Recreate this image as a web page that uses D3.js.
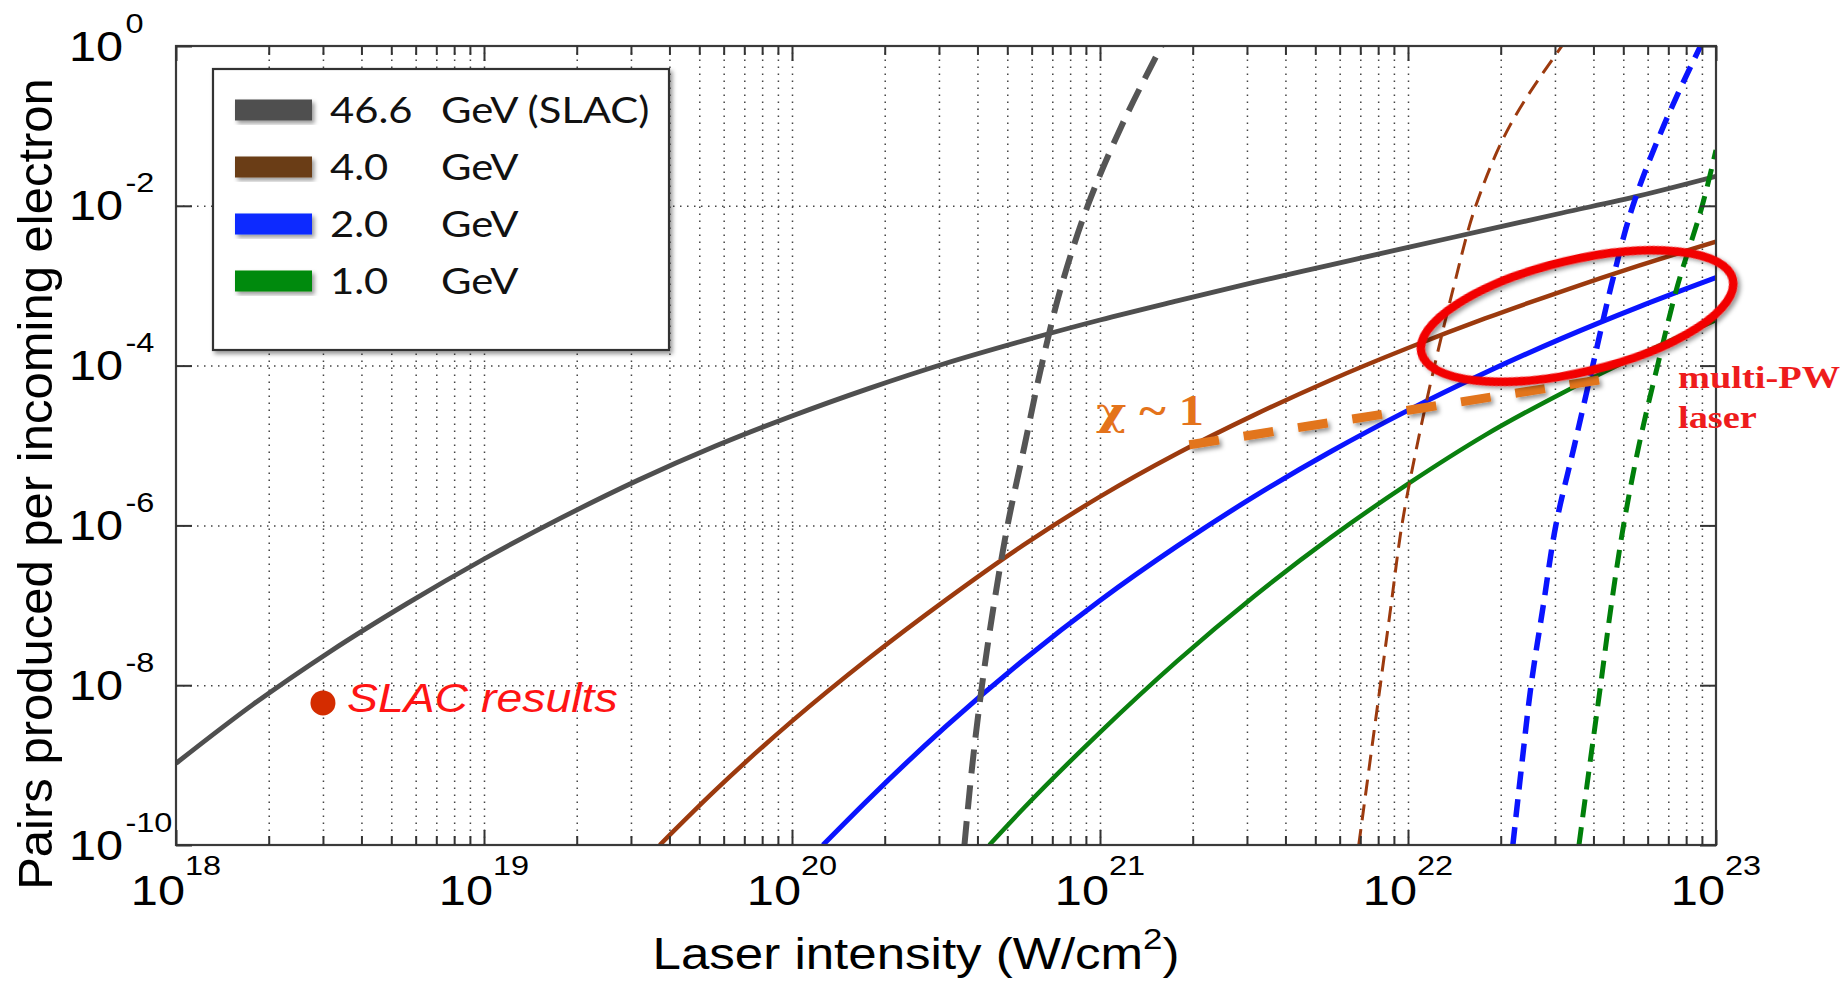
<!DOCTYPE html>
<html><head><meta charset="utf-8">
<script src="https://cdn.jsdelivr.net/npm/d3@7"></script>
<style>body{margin:0;background:#fff}svg{display:block}</style>
</head><body>
<svg id="c" width="1848" height="982"></svg>
<script>
// ---------------- data ----------------
const legendNumbers = ["46.6", "4.0", "2.0", "1.0"];
const legendUnits = ["GeV (SLAC)", "GeV", "GeV", "GeV"];
const xTickExponents = ["18", "19", "20", "21", "22", "23"];
const xTickValues = [1e18, 1e19, 1e20, 1e21, 1e22, 1e23];
const yTickExponents = ["0", "-2", "-4", "-6", "-8", "-10"];
const yTickValues = [1, 1e-2, 1e-4, 1e-6, 1e-8, 1e-10];

// solid curves: pairs per electron vs laser intensity
const gray46I = [1e18,1.78e18,3.16e18,5.62e18,1e19,1.78e19,3.16e19,5.62e19,1e20,1.78e20,3.16e20,5.62e20,1e21,1.78e21,3.16e21,5.62e21,1e22,1.78e22,3.16e22,5.62e22,1e23];
const gray46P = [1.05e-9,5.75e-9,2.63e-8,1.05e-7,3.80e-7,1.24e-6,3.67e-6,9.77e-6,2.34e-5,5.19e-5,1.07e-4,2.04e-4,3.72e-4,6.46e-4,1.10e-3,1.82e-3,3.02e-3,4.95e-3,8.13e-3,1.33e-2,2.34e-2];

const brown4I = [3.72e19,5.62e19,1e20,1.78e20,3.16e20,5.62e20,1e21,1.78e21,3.16e21,5.62e21,1e22,1.78e22,3.16e22,5.62e22,1e23];
const brown4P = [1e-10,4.79e-10,3.55e-9,2.19e-8,1.17e-7,5.62e-7,2.29e-6,7.94e-6,2.40e-5,6.61e-5,1.66e-4,3.89e-4,8.51e-4,1.78e-3,3.55e-3];

const blue2I = [1.26e20,1.78e20,3.16e20,5.62e20,1e21,1.78e21,3.16e21,5.62e21,1e22,1.78e22,3.16e22,5.62e22,1e23];
const blue2P = [1e-10,3.80e-10,3.05e-9,2.04e-8,1.15e-7,5.5e-7,2.29e-6,8.41e-6,2.75e-5,8.13e-5,2.19e-4,5.43e-4,1.26e-3];

const green1I = [4.37e20,5.62e20,1e21,1.78e21,3.16e21,5.62e21,1e22,1.78e22,3.16e22,5.62e22,1e23];
const green1P = [1e-10,2.82e-10,2.57e-9,2.0e-8,1.29e-7,7.08e-7,3.31e-6,1.35e-5,4.52e-5,1.35e-4,3.72e-4];

// dashed curves (steep)
const dashP = [1e-10,1e-9,1e-8,1e-7,1e-6,1e-5,1e-4,1e-3,1e-2,1e-1,1];
const gray46DashI = [3.63e20,3.85e20,4.14e20,4.52e20,5.01e20,5.69e20,6.46e20,7.50e20,9.12e20,1.175e21,1.585e21];
const brown4DashI = [6.92e21,7.50e21,8.13e21,8.81e21,9.55e21,1.07e22,1.22e22,1.41e22,1.66e22,2.14e22,3.16e22];
const blue2DashI = [2.19e22,2.34e22,2.51e22,2.75e22,3.02e22,3.47e22,3.98e22,4.57e22,5.37e22,6.76e22,8.91e22];
const green1DashI = [3.59e22,3.89e22,4.22e22,4.57e22,5.01e22,5.62e22,6.46e22,7.50e22,9.02e22,1e23];
const green1DashP = [1e-10,1e-9,1e-8,1e-7,1e-6,1e-5,1e-4,1e-3,1e-2,5.0e-2];

// annotations
const slacPoint = [3.0e18, 6.0e-9];
const chiLine = [[1.95e21, 1.02e-5], [4.17e22, 6.6e-5]];
const ellipseCenter = [3.54e22, 4.17e-4];

// ---------------- chart ----------------
const svg = d3.select("#c");
const M = {l:176, r:1716, t:46, b:845};
const x = d3.scaleLog().domain([1e18, 1e23]).range([M.l, M.r]);
const y = d3.scaleLog().domain([1e-10, 1]).range([M.b, M.t]);
const SX = 1.16;
const sans = "'Liberation Sans', Arial, Helvetica, sans-serif";
const serif = "'Liberation Serif', 'Times New Roman', serif";

svg.append("rect").attr("width",1848).attr("height",982).attr("fill","#fff");
const defs = svg.append("defs");
defs.append("clipPath").attr("id","clip").append("rect")
  .attr("x",M.l).attr("y",M.t).attr("width",M.r-M.l).attr("height",M.b-M.t);
const f = defs.append("filter").attr("id","shadow").attr("x","-20%").attr("y","-20%").attr("width","140%").attr("height","140%");
f.append("feDropShadow").attr("dx",2.5).attr("dy",3).attr("stdDeviation",2).attr("flood-color","#000").attr("flood-opacity",0.4);

// grid
const allX = x.ticks().filter(v => v > 1e18 && v < 1e23);
const gx = svg.append("g").attr("transform",`translate(0,${M.b})`)
  .call(d3.axisBottom(x).tickValues(allX).tickSize(-(M.b-M.t)).tickFormat(""));
const gy = svg.append("g").attr("transform",`translate(${M.l},0)`)
  .call(d3.axisLeft(y).tickValues([1e-8,1e-6,1e-4,1e-2]).tickSize(-(M.r-M.l)).tickFormat(""));
[gx, gy].forEach(g => {
  g.select(".domain").remove();
  g.selectAll("line").attr("stroke","#444").attr("stroke-width",1.5).attr("stroke-dasharray","1.5,5.5");
});

// curves
const plot = svg.append("g").attr("clip-path","url(#clip)");
const lineX = d3.line().x(d => x(d[0])).y(d => y(d[1])).curve(d3.curveMonotoneX);
const lineY = d3.line().x(d => x(d[0])).y(d => y(d[1])).curve(d3.curveMonotoneY);
const zip = (a, b) => a.map((v, i) => [v, b[i]]);

const dashed = [
  {I: gray46DashI, P: dashP, c: "#555555", w: 6, da: "24,12"},
  {I: brown4DashI, P: dashP, c: "#9c3a0e", w: 3, da: "16,9"},
  {I: blue2DashI, P: dashP, c: "#0a14ff", w: 5.5, da: "18,10"},
  {I: green1DashI, P: green1DashP, c: "#007f0a", w: 5, da: "18,10"}
];
const solids = [
  {I: gray46I, P: gray46P, c: "#4f4f4f", w: 4.8},
  {I: brown4I, P: brown4P, c: "#9c3a0e", w: 4.5},
  {I: blue2I, P: blue2P, c: "#0a14ff", w: 5},
  {I: green1I, P: green1P, c: "#0a800f", w: 4.5}
];
solids.forEach(s => plot.append("path").attr("d", lineX(zip(s.I, s.P)))
  .attr("fill","none").attr("stroke",s.c).attr("stroke-width",s.w));
dashed.forEach(s => plot.append("path").attr("d", lineY(zip(s.I, s.P)))
  .attr("fill","none").attr("stroke",s.c).attr("stroke-width",s.w).attr("stroke-dasharray",s.da));

// frame + ticks
svg.append("rect").attr("x",M.l).attr("y",M.t).attr("width",M.r-M.l).attr("height",M.b-M.t)
  .attr("fill","none").attr("stroke","#3a3a3a").attr("stroke-width",2.2);
const minorX = x.ticks().filter(v => !xTickValues.includes(v));
const tickGroups = [
  svg.append("g").attr("transform",`translate(0,${M.b})`).call(d3.axisBottom(x).tickValues(xTickValues).tickSize(-15).tickFormat("")),
  svg.append("g").attr("transform",`translate(0,${M.b})`).call(d3.axisBottom(x).tickValues(minorX).tickSize(-9).tickFormat("")),
  svg.append("g").attr("transform",`translate(0,${M.t})`).call(d3.axisTop(x).tickValues(xTickValues).tickSize(-15).tickFormat("")),
  svg.append("g").attr("transform",`translate(0,${M.t})`).call(d3.axisTop(x).tickValues(minorX).tickSize(-9).tickFormat("")),
  svg.append("g").attr("transform",`translate(${M.l},0)`).call(d3.axisLeft(y).tickValues(yTickValues).tickSize(-16).tickFormat("")),
  svg.append("g").attr("transform",`translate(${M.r},0)`).call(d3.axisRight(y).tickValues(yTickValues).tickSize(-16).tickFormat(""))
];
tickGroups.forEach(g => { g.select(".domain").remove(); g.selectAll("line").attr("stroke","#333").attr("stroke-width",2); });

// tick labels
xTickValues.forEach((v, i) => {
  const t = svg.append("text").attr("transform",`translate(${x(v)},905) scale(${SX},1)`)
    .attr("text-anchor","middle").attr("font-family",sans).attr("font-size",42).attr("fill","#000");
  t.append("tspan").text("10");
  t.append("tspan").attr("dy",-30).attr("font-size",28).text(xTickExponents[i]);
});
yTickValues.forEach((v, i) => {
  const t = svg.append("text").attr("transform",`translate(69,${y(v)+14.5}) scale(${SX},1)`)
    .attr("font-family",sans).attr("font-size",42).attr("fill","#000");
  t.append("tspan").text("10");
  t.append("tspan").attr("dx",2).attr("dy",-28).attr("font-size",28).text(yTickExponents[i]);
});

// axis titles
const xt = svg.append("text").attr("transform",`translate(916,969) scale(1.16,1)`)
  .attr("text-anchor","middle").attr("font-family",sans).attr("font-size",44).attr("fill","#000");
xt.append("tspan").text("Laser intensity (W/cm");
xt.append("tspan").attr("dy",-20).attr("font-size",30).text("2");
xt.append("tspan").attr("dy",20).text(")");
svg.append("text").attr("transform","translate(52,484) rotate(-90)")
  .attr("text-anchor","middle").attr("font-family",sans).attr("font-size",49).attr("fill","#000")
  .text("Pairs produced per incoming electron");

// legend
const lg = svg.append("g");
lg.append("rect").attr("x",213).attr("y",69).attr("width",456).attr("height",281)
  .attr("fill","#fff").attr("stroke","#333").attr("stroke-width",2.2).attr("filter","url(#shadow)");
const legendColors = ["#505050", "#6a3e17", "#0a2aff", "#048a0a"];
const legendFont = "Lato, 'Open Sans', sans-serif";
legendNumbers.forEach((n, i) => {
  const cy = 110 + i * 57;
  lg.append("rect").attr("x",235).attr("y",cy-10.5).attr("width",77).attr("height",21)
    .attr("fill",legendColors[i]).attr("filter","url(#shadow)");
  lg.append("text").attr("transform",`translate(330,${cy+13}) scale(${SX},1)`)
    .attr("font-family",legendFont).attr("font-size",36).attr("fill","#111").text(n);
  lg.append("text").attr("transform",`translate(441,${cy+13}) scale(${SX},1)`)
    .attr("font-family",legendFont).attr("font-size",36).attr("fill","#111").text(legendUnits[i]);
});

// annotations
svg.append("circle").attr("cx",x(slacPoint[0])).attr("cy",y(slacPoint[1])).attr("r",12.5).attr("fill","#d42c00");
svg.append("text").attr("transform",`translate(${x(slacPoint[0])+24},${y(slacPoint[1])+9}) scale(${SX},1)`)
  .attr("font-family",sans).attr("font-style","italic").attr("font-size",40).attr("fill","#ff1414").text("SLAC results");

svg.append("path").attr("d", d3.line().x(d => x(d[0])).y(d => y(d[1]))(chiLine))
  .attr("fill","none").attr("stroke","#e2741b").attr("stroke-width",9).attr("stroke-dasharray","30,25")
  .attr("filter","url(#shadow)");
const chi = svg.append("text").attr("transform",`translate(1096,425) scale(${SX},1)`)
  .attr("font-family",serif).attr("font-weight","bold").attr("font-size",44).attr("fill","#e4731b");
chi.append("tspan").attr("font-family","'DejaVu Serif', serif").attr("font-weight","bold").attr("font-size",40).text("χ");
chi.append("tspan").text(" ~ 1");

svg.append("ellipse").attr("transform",`translate(${x(ellipseCenter[0])},${y(ellipseCenter[1])}) rotate(-13.3)`)
  .attr("rx",160).attr("ry",56).attr("fill","none").attr("stroke","#f20000").attr("stroke-width",8.5)
  .attr("filter","url(#shadow)");
svg.append("text").attr("transform",`translate(1678,388) scale(1.2,1)`)
  .attr("font-family",serif).attr("font-weight","bold").attr("font-size",32).attr("fill","#ee1c1c").text("multi-PW");
svg.append("text").attr("transform",`translate(1678,428) scale(1.2,1)`)
  .attr("font-family",serif).attr("font-weight","bold").attr("font-size",32).attr("fill","#ee1c1c").text("laser");
</script>
</body></html>
